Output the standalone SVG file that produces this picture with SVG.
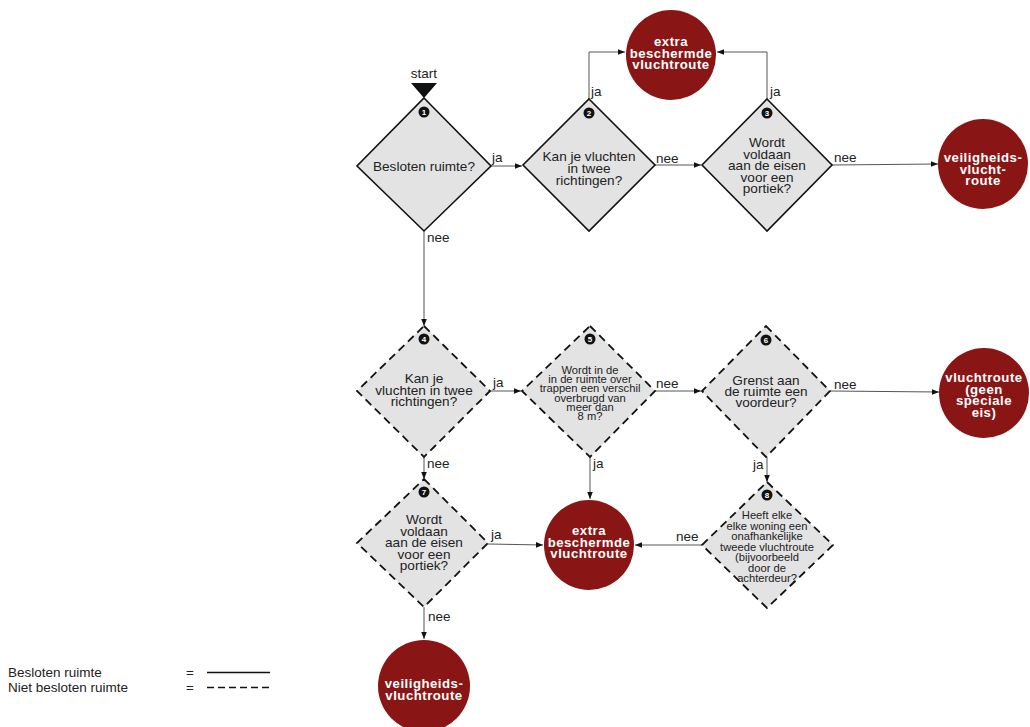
<svg xmlns="http://www.w3.org/2000/svg" width="1030" height="727" viewBox="0 0 1030 727">
  <style>
    .q { fill: #e3e3e3; stroke: #111; stroke-width: 1.6; }
    .q.open { stroke-dasharray: 8 5; stroke-width: 1.8; }
    .qt { font-family: "Liberation Sans", Arial, sans-serif; font-size: 13.6px; fill: #222; text-anchor: middle; }
    .qs { font-size: 11.2px; }
    .end { fill: #8a1515; }
    .et { font-family: "Liberation Sans", Arial, sans-serif; font-size: 13.2px; font-weight: bold; fill: #fff; text-anchor: middle; letter-spacing: 0.5px; }
    .badge circle { fill: #111; }
    .badge text { font-family: "Liberation Sans", Arial, sans-serif; font-size: 8px; font-weight: bold; fill: #fff; text-anchor: middle; }
    .lbl { font-family: "Liberation Sans", Arial, sans-serif; font-size: 13.5px; fill: #222; }
    .edge { fill: none; stroke: #555; stroke-width: 1; marker-end: url(#arrow); }
    .leg { font-family: "Liberation Sans", Arial, sans-serif; font-size: 13.5px; fill: #222; }
  </style>
  <defs>
    <marker id="arrow" viewBox="0 0 10 10" refX="10" refY="5" markerWidth="7" markerHeight="7" markerUnits="userSpaceOnUse" orient="auto">
      <path d="M0,1 L10,5 L0,9 z" fill="#111"/>
    </marker>
  </defs>

  <rect width="1030" height="727" fill="#fff"/>

  <!-- connectors -->
  <g id="connectors">
    <path class="edge" d="M491,166 L522,166"/>
    <path class="edge" d="M655,165 L701,165"/>
    <path class="edge" d="M832,165 L938,164"/>
    <path class="edge" d="M589,99 L589,52 L625,52"/>
    <path class="edge" d="M767,99 L767,52 L717,52"/>
    <path class="edge" d="M424,230 L424,326"/>
    <path class="edge" d="M490,391 L521,391"/>
    <path class="edge" d="M655,391 L701,391"/>
    <path class="edge" d="M830,391 L939,392"/>
    <path class="edge" d="M424,457 L424,479"/>
    <path class="edge" d="M590,457 L590,499"/>
    <path class="edge" d="M767,457 L767,482"/>
    <path class="edge" d="M488,544 L543,545"/>
    <path class="edge" d="M702,545 L635,545"/>
    <path class="edge" d="M424,607 L424,639"/>

    <text class="lbl" x="492" y="162">ja</text>
    <text class="lbl" x="656" y="163">nee</text>
    <text class="lbl" x="834" y="162">nee</text>
    <text class="lbl" x="591" y="96">ja</text>
    <text class="lbl" x="770" y="96">ja</text>
    <text class="lbl" x="427" y="242">nee</text>
    <text class="lbl" x="493" y="387">ja</text>
    <text class="lbl" x="656" y="388">nee</text>
    <text class="lbl" x="834" y="389">nee</text>
    <text class="lbl" x="427" y="468">nee</text>
    <text class="lbl" x="593" y="468">ja</text>
    <text class="lbl" x="753" y="469">ja</text>
    <text class="lbl" x="491" y="539">ja</text>
    <text class="lbl" x="676" y="541">nee</text>
    <text class="lbl" x="428" y="621">nee</text>
  </g>

  <!-- start marker -->
  <g id="start">
    <text class="lbl" x="424" y="78" text-anchor="middle">start</text>
    <path d="M411,83 L437,83 L424,98 z" fill="#111"/>
  </g>

  <!-- decision 1 -->
  <g id="q1">
    <path class="q" d="M424,98 L491,166 L424,231 L357,166 z"/>
    <text class="qt" x="424" y="171">Besloten ruimte?</text>
    <g class="badge"><circle cx="424" cy="112" r="5.5"/><text x="424" y="115">1</text></g>
  </g>

  <!-- decision 2 -->
  <g id="q2">
    <path class="q" d="M589,99 L655,165 L589,231 L523,165 z"/>
    <text class="qt" x="589" y="161">Kan je vluchten</text>
    <text class="qt" x="589" y="173">in twee</text>
    <text class="qt" x="589" y="185">richtingen?</text>
    <g class="badge"><circle cx="589" cy="113" r="5.5"/><text x="589" y="116">2</text></g>
  </g>

  <!-- decision 3 -->
  <g id="q3">
    <path class="q" d="M767,99 L832,165 L767,231 L702,165 z"/>
    <text class="qt" x="767" y="147">Wordt</text>
    <text class="qt" x="767" y="158.5">voldaan</text>
    <text class="qt" x="767" y="170">aan de eisen</text>
    <text class="qt" x="767" y="181.5">voor een</text>
    <text class="qt" x="767" y="193">portiek?</text>
    <g class="badge"><circle cx="767" cy="113" r="5.5"/><text x="767" y="116">3</text></g>
  </g>

  <!-- decision 4 -->
  <g id="q4">
    <path class="q open" d="M424,326 L490,391 L424,457 L357,391 z"/>
    <text class="qt" x="424" y="383">Kan je</text>
    <text class="qt" x="424" y="395">vluchten in twee</text>
    <text class="qt" x="424" y="406">richtingen?</text>
    <g class="badge"><circle cx="424" cy="339" r="5.5"/><text x="424" y="342">4</text></g>
  </g>

  <!-- decision 5 -->
  <g id="q5">
    <path class="q open" d="M590,326 L655,391 L590,457 L522,391 z"/>
    <text class="qt qs" x="590" y="374">Wordt in de</text>
    <text class="qt qs" x="590" y="383.2">in de ruimte over</text>
    <text class="qt qs" x="590" y="392.4">trappen een verschil</text>
    <text class="qt qs" x="590" y="401.6">overbrugd van</text>
    <text class="qt qs" x="590" y="410.8">meer dan</text>
    <text class="qt qs" x="590" y="420">8 m?</text>
    <g class="badge"><circle cx="590" cy="339" r="5.5"/><text x="590" y="342">5</text></g>
  </g>

  <!-- decision 6 -->
  <g id="q6">
    <path class="q open" d="M766,326 L830,391 L766,457 L702,391 z"/>
    <text class="qt" x="766" y="385">Grenst aan</text>
    <text class="qt" x="766" y="396">de ruimte een</text>
    <text class="qt" x="766" y="407">voordeur?</text>
    <g class="badge"><circle cx="766" cy="340" r="5.5"/><text x="766" y="343">6</text></g>
  </g>

  <!-- decision 7 -->
  <g id="q7">
    <path class="q open" d="M424,479 L488,543 L424,607 L357,543 z"/>
    <text class="qt" x="424" y="524">Wordt</text>
    <text class="qt" x="424" y="535.5">voldaan</text>
    <text class="qt" x="424" y="547">aan de eisen</text>
    <text class="qt" x="424" y="558.5">voor een</text>
    <text class="qt" x="424" y="570">portiek?</text>
    <g class="badge"><circle cx="424" cy="492" r="5.5"/><text x="424" y="495">7</text></g>
  </g>

  <!-- decision 8 -->
  <g id="q8">
    <path class="q open" d="M767,482 L833,545 L767,608 L702,545 z"/>
    <text class="qt qs" x="767" y="519">Heeft elke</text>
    <text class="qt qs" x="767" y="529.5">elke woning een</text>
    <text class="qt qs" x="767" y="540">onafhankelijke</text>
    <text class="qt qs" x="767" y="550.5">tweede vluchtroute</text>
    <text class="qt qs" x="767" y="561">(bijvoorbeeld</text>
    <text class="qt qs" x="767" y="571.5">door de</text>
    <text class="qt qs" x="767" y="582">achterdeur?</text>
    <g class="badge"><circle cx="767" cy="495" r="5.5"/><text x="767" y="498">8</text></g>
  </g>

  <!-- outcomes -->
  <g id="r-extra-top">
    <circle class="end" cx="671" cy="55" r="45"/>
    <text class="et" x="671" y="46">extra</text>
    <text class="et" x="671" y="57.5">beschermde</text>
    <text class="et" x="671" y="69">vluchtroute</text>
  </g>

  <g id="r-veilig-top">
    <circle class="end" cx="983" cy="164" r="45"/>
    <text class="et" x="983" y="162">veiligheids-</text>
    <text class="et" x="983" y="173.5">vlucht-</text>
    <text class="et" x="983" y="185">route</text>
  </g>

  <g id="r-geen-eis">
    <circle class="end" cx="984" cy="393" r="45"/>
    <text class="et" x="984" y="382">vluchtroute</text>
    <text class="et" x="984" y="393.5">(geen</text>
    <text class="et" x="984" y="405">speciale</text>
    <text class="et" x="984" y="416.5">eis)</text>
  </g>

  <g id="r-extra-mid">
    <circle class="end" cx="589" cy="545" r="45"/>
    <text class="et" x="589" y="535">extra</text>
    <text class="et" x="589" y="546.5">beschermde</text>
    <text class="et" x="589" y="558">vluchtroute</text>
  </g>

  <g id="r-veilig-bottom">
    <circle class="end" cx="424" cy="686" r="46"/>
    <text class="et" x="424" y="688">veiligheids-</text>
    <text class="et" x="424" y="699.5">vluchtroute</text>
  </g>

  <!-- legend -->
  <g id="legend">
    <text class="leg" x="8" y="677">Besloten ruimte</text>
    <text class="leg" x="8" y="692">Niet besloten ruimte</text>
    <text class="leg" x="186" y="677">=</text>
    <text class="leg" x="186" y="692">=</text>
    <line x1="207" y1="672.5" x2="270" y2="672.5" stroke="#111" stroke-width="1.6"/>
    <line x1="207" y1="687.5" x2="270" y2="687.5" stroke="#111" stroke-width="1.6" stroke-dasharray="7 4"/>
  </g>
</svg>
